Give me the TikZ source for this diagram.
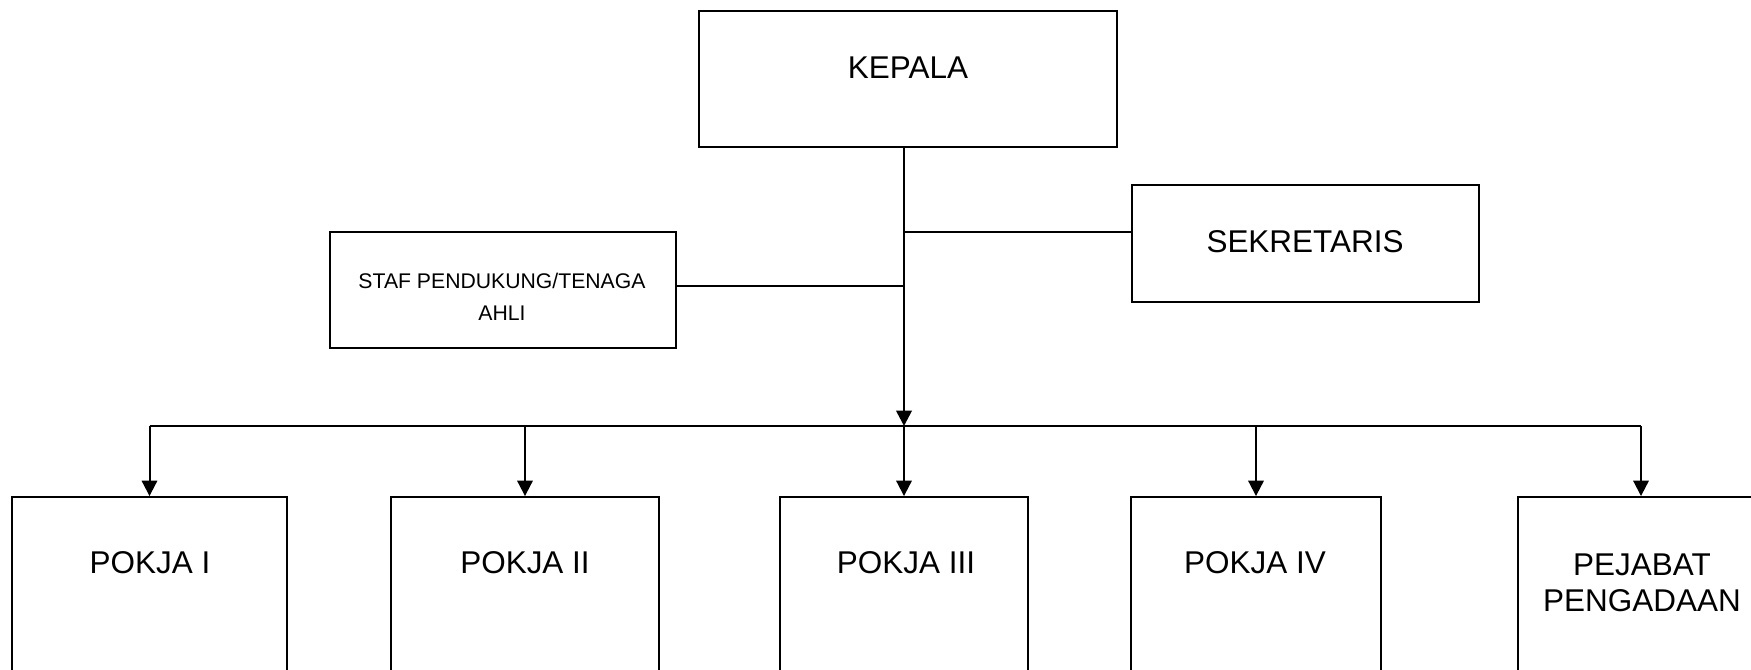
\documentclass[tikz,border=0pt]{standalone}
\usepackage{fontspec}
\setmainfont{Liberation Sans}
\usetikzlibrary{arrows.meta}

\tikzset{every picture/.style={line width=1.4pt}}
\tikzset{
  orgbox/.style={draw, inner sep=0pt, line width=1.4pt},
  bigtext/.style={anchor=north, inner sep=0pt, align=center, font={\fontsize{23.6}{27}\selectfont}},
  smalltext/.style={anchor=north, inner sep=0pt, align=center, font={\fontsize{15.9}{23.6}\selectfont}},
  link/.style={line width=1.5pt},
  trunk/.style={line width=2pt, -{Triangle[length=11.5pt,width=11.5pt]}},
  down/.style={line width=1.5pt, -{Triangle[length=11.5pt,width=11.5pt]}},
}

\begin{document}
\begin{tikzpicture}[x=0.75pt,y=0.75pt,yscale=-1,xscale=1]
\useasboundingbox (0,0) rectangle (1751,670);
\clip (0,0) rectangle (1751,670);

%Shape: Rectangle [kepala]
\node[orgbox, minimum width=313.5pt, minimum height=102pt] (kepala) at (908,79) {};
%Shape: Rectangle [sekretaris]
\node[orgbox, minimum width=260.25pt, minimum height=87.75pt] (sekretaris) at (1305.5,243.5) {};
%Shape: Rectangle [staf]
\node[orgbox, minimum width=259.5pt, minimum height=87pt] (staf) at (503,290) {};
%Shape: Rectangle [pokja I .. pejabat]
\node[orgbox, minimum width=206.25pt, minimum height=165pt] (pokja1) at (149.5,607) {};
\node[orgbox, minimum width=201pt, minimum height=165pt] (pokja2) at (525,607) {};
\node[orgbox, minimum width=186pt, minimum height=165pt] (pokja3) at (904,607) {};
\node[orgbox, minimum width=187.5pt, minimum height=165pt] (pokja4) at (1256,607) {};
\node[orgbox, minimum width=184.5pt, minimum height=165pt] (pejabat) at (1641,607) {};

%Junctions on the trunk
\coordinate (hub) at (904,426);
\coordinate (jsek) at (904,232);
\coordinate (jstaf) at (904,286);

%Straight Lines [trunk]
\draw[trunk] (kepala.south -| hub) -- (hub);
%Straight Lines [sekretaris, staf]
\draw[link] (jsek) -- (jsek -| sekretaris.west);
\draw[link] (jstaf) -- (jstaf -| staf.east);
%Straight Lines [bus]
\draw[link] (hub -| pokja1.north) -- (hub -| pejabat.north);
%Down Arrows
\foreach \n in {pokja1,pokja2,pokja3,pokja4,pejabat}
  \draw[down] (hub -| \n.north) -- (\n.north);

% Text Node
\node[bigtext] (kepalatext) at (908,56) {KEPALA};
% Text Node
\node[bigtext] (sekretaristext) at (1305,230) {SEKRETARIS};
% Text Node
\node[smalltext] (staftext) at (502,272.7) {STAF PENDUKUNG/TENAGA\\AHLI};
% Text Node
\node[bigtext] (pokja1text) at (150,551) {POKJA I};
\node[bigtext] (pokja2text) at (525,551) {POKJA II};
\node[bigtext] (pokja3text) at (906,551) {POKJA III};
\node[bigtext] (pokja4text) at (1255,551) {POKJA IV};
\node[bigtext] (pejabattext) at (1642,553) {PEJABAT\\PENGADAAN};

\end{tikzpicture}
\end{document}
